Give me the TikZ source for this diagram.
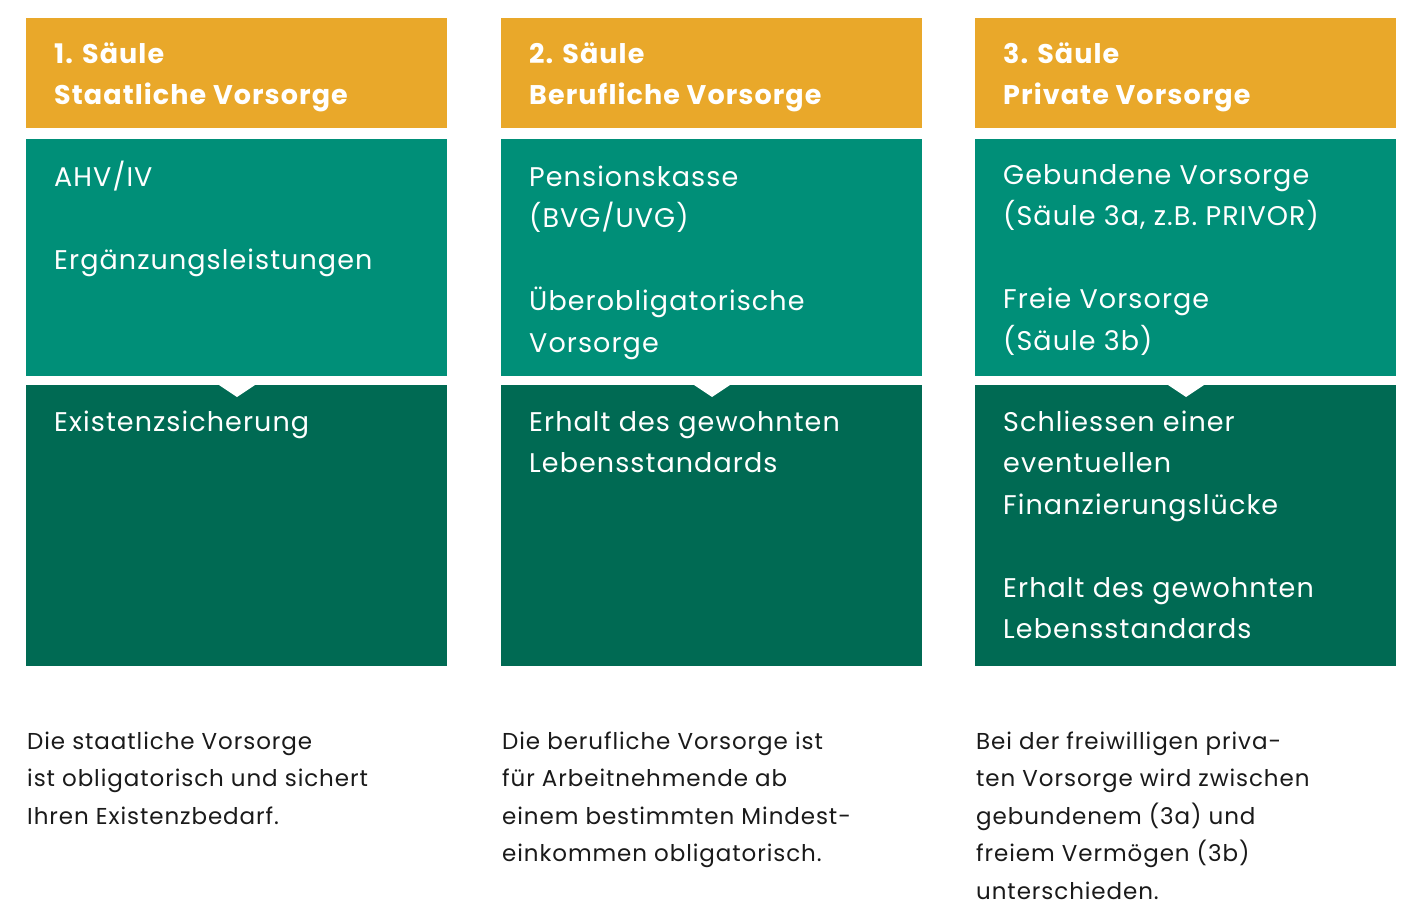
\documentclass[tikz,border=0pt]{standalone}
\usepackage{fontspec}
\setmainfont{Poppins}[LetterSpace=4]
\newfontfamily\hfont{Poppins}[LetterSpace=4]
\definecolor{hdr}{HTML}{E9A82A}
\definecolor{mid}{HTML}{008F78}
\definecolor{drk}{HTML}{006A53}
\definecolor{txt}{HTML}{1A1A1A}
\begin{document}
\begin{tikzpicture}[x=1pt,y=-1pt,
  htext/.style={anchor=north west,inner sep=0,align=left,text=white,font=\hfont\fontsize{27}{41}\selectfont\bfseries},
  btext/.style={anchor=north west,inner sep=0,align=left,text=white,font=\fontsize{27}{41.5}\selectfont},
  ctext/.style={anchor=north west,inner sep=0,align=left,text=txt,font=\fontsize{23}{37.5}\selectfont}]
\useasboundingbox (0,0) rectangle (1423,918);
\fill[white] (0,0) rectangle (1423,918);
\foreach \x in {26,501,975}{
  \fill[hdr] (\x,18) rectangle ++(421,110);
  \fill[mid] (\x,139) rectangle ++(421,237);
  \fill[drk] (\x,385) rectangle ++(421,281);
  \fill[white] (\x+193,385) -- (\x+229,385) -- (\x+211,397) -- cycle;
}
% north = baseline - 0.7*baselineskip
\node[htext] (h1) at (54,34.3) {\strut 1. Säule\\Staatliche Vorsorge};
\node[htext] (h2) at (529,34.3) {\strut 2. Säule\\Berufliche Vorsorge};
\node[htext] (h3) at (1003,34.3) {\strut 3. Säule\\Private Vorsorge};
\node[btext] (m1) at (54,157) {\strut AHV/IV\\[41.5pt]Ergänzungsleistungen};
\node[btext] (m2) at (529,157) {\strut Pensionskasse\\(BVG/UVG)\\[41.5pt]Überobligatorische\\Vorsorge};
\node[btext] (m3) at (1003,155) {\strut Gebundene Vorsorge\\(Säule 3a, z.B. PRIVOR)\\[41.5pt]Freie Vorsorge\\(Säule 3b)};
\node[btext] (d1) at (54,402) {\strut Existenzsicherung};
\node[btext] (d2) at (529,402) {\strut Erhalt des gewohnten\\Lebensstandards};
\node[btext] (d3) at (1003,402) {\strut Schliessen einer\\eventuellen\\Finanzierungslücke\\[41.5pt]Erhalt des gewohnten\\Lebensstandards};
\node[ctext] (c1) at (27,722.7) {\strut Die staatliche Vorsorge\\ist obligatorisch und sichert\\Ihren Existenzbedarf.};
\node[ctext] (c2) at (502,722.7) {\strut Die berufliche Vorsorge ist\\für Arbeitnehmende ab\\einem bestimmten Mindest-\\einkommen obligatorisch.};
\node[ctext] (c3) at (976,722.7) {\strut Bei der freiwilligen priva-\\ten Vorsorge wird zwischen\\gebundenem (3a) und\\freiem Vermögen (3b)\\unterschieden.};
\end{tikzpicture}
\end{document}
